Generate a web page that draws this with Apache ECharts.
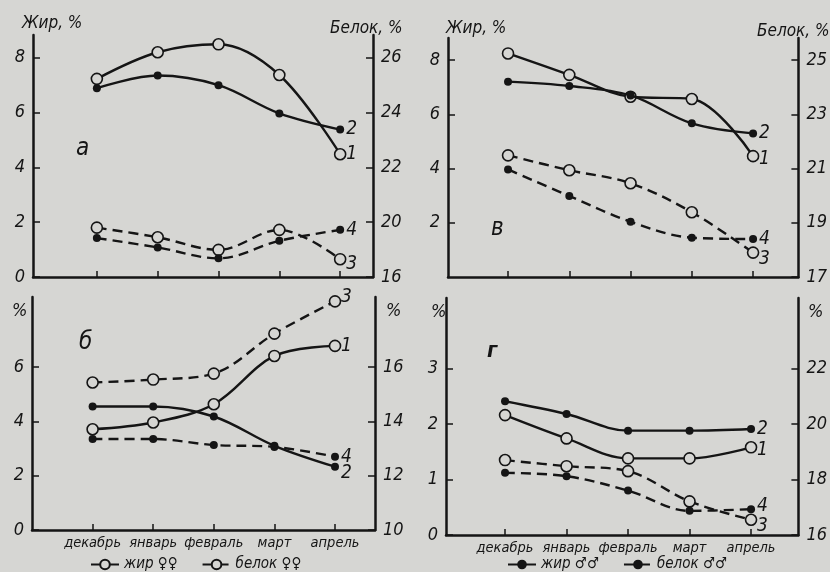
<!DOCTYPE html>
<html>
<head>
<meta charset="utf-8">
<script src="https://cdn.jsdelivr.net/npm/echarts@6/dist/echarts.min.js"></script>
<style>
html,body{margin:0;padding:0;background:#d6d6d3;}
#c{width:830px;height:572px;}
</style>
</head>
<body>
<div id="c"></div>
<script>
// ---- data ----
const months = ['декабрь', 'январь', 'февраль', 'март', 'апрель'];
const monthIdx = [0, 1, 2, 3, 4];

// panel а (♀♀, top-left)
const aFat1 = [7.23, 8.2, 8.49, 7.37, 4.48];
const aFat2 = [6.89, 7.35, 7.0, 5.97, 5.38];
const aProt3 = [19.8, 19.45, 18.99, 19.72, 18.65];
const aProt4 = [19.42, 19.08, 18.68, 19.32, 19.72];
const aFatTicks = [0, 2, 4, 6, 8];
const aProtTicks = [18, 20, 22, 24, 26];
const aProtTickLabels = ['16', '20', '22', '24', '26'];

// panel в (♂♂, top-right)
const vFat1 = [8.25, 7.46, 6.65, 6.57, 4.46];
const vFat2 = [7.21, 7.05, 6.7, 5.67, 5.3];
const vProt3 = [21.49, 20.94, 20.46, 19.39, 17.9];
const vProt4 = [20.97, 19.99, 19.04, 18.45, 18.4];
const vFatTicks = [2, 4, 6, 8];
const vProtTicks = [17, 19, 21, 23, 25];

// panel б (♀♀, bottom-left)
const bFat1 = [3.71, 3.96, 4.63, 6.41, 6.78];
const bFat2 = [4.55, 4.55, 4.18, 3.1, 2.33];
const bProt3 = [15.43, 15.54, 15.76, 17.23, 18.42];
const bProt4 = [13.35, 13.35, 13.13, 13.06, 12.7];
const bFatTicks = [0, 2, 4, 6];
const bProtTicks = [10, 12, 14, 16];

// panel г (♂♂, bottom-right)
const gFat1 = [2.16, 1.74, 1.38, 1.38, 1.58];
const gFat2 = [2.41, 2.18, 1.88, 1.88, 1.91];
const gProt3 = [18.7, 18.48, 18.3, 17.21, 16.55];
const gProt4 = [18.24, 18.12, 17.6, 16.87, 16.93];
const gFatTicks = [0, 1, 2, 3];
const gProtTicks = [16, 18, 20, 22];

// ---- styling ----
const INK = '#151515';
const BG = '#d6d6d3';
const FONT = "'Liberation Sans Narrow', 'DejaVu Sans Condensed', 'DejaVu Sans', sans-serif";
const txt = {color: INK, fontStyle: 'italic', fontFamily: FONT};

function xAxis(grid, min, max, showLabels) {
  return {
    type: 'value', gridIndex: grid, min: min, max: max,
    axisLine: {show: true, onZero: false, lineStyle: {color: INK, width: 2.5}},
    axisTick: {show: true, inside: true, length: 6, customValues: monthIdx, lineStyle: {color: INK, width: 1.5}},
    splitLine: {show: false},
    axisLabel: Object.assign({show: showLabels, customValues: monthIdx, fontSize: 14.5, margin: 6,
      formatter: v => months[Math.round(v)] || ''}, txt)
  };
}
function yAxis(grid, pos, min, max, ticks, labels) {
  return {
    type: 'value', gridIndex: grid, position: pos, min: min, max: max,
    axisLine: {show: true, onZero: false, lineStyle: {color: INK, width: 2.5}},
    axisTick: {show: true, inside: true, length: 7, customValues: ticks, lineStyle: {color: INK, width: 1.5}},
    splitLine: {show: false},
    axisLabel: Object.assign({customValues: ticks, fontSize: 18, margin: 8,
      formatter: v => labels ? labels[ticks.indexOf(v)] : String(v)}, txt)
  };
}
function series(name, vals, grid, yIdx, open, dashed, tag, labelOffset) {
  return {
    name: name, type: 'line', xAxisIndex: grid, yAxisIndex: yIdx,
    data: vals.map((v, i) => [monthIdx[i], v]),
    smooth: 0.35,
    symbol: 'circle',
    symbolSize: open ? 11 : 8,
    showAllSymbol: true,
    itemStyle: open ? {color: BG, borderColor: INK, borderWidth: 1.6} : {color: INK, borderColor: INK, borderWidth: 0},
    lineStyle: {color: INK, width: 2.4, type: dashed ? [10, 6] : 'solid'},
    endLabel: Object.assign({show: true, formatter: tag, fontSize: 19, distance: 6,
      offset: labelOffset || [0, 0]}, txt),
    z: open ? 3 : 4,
    animation: false
  };
}

const option = {
  backgroundColor: BG,
  animation: false,
  grid: [
    {left: 33, right: 457, top: 35, bottom: 295},
    {left: 448, right: 26, top: 38, bottom: 295},
    {left: 32, right: 455, top: 297, bottom: 42},
    {left: 446, right: 27, top: 298, bottom: 37}
  ],
  xAxis: [
    xAxis(0, -1.05, 4.54, false),
    xAxis(1, -0.98, 4.74, false),
    xAxis(2, -1.0, 4.66, true),
    xAxis(3, -0.96, 4.77, true)
  ],
  yAxis: [
    yAxis(0, 'left', 0, 8.83, aFatTicks),
    yAxis(0, 'right', 18, 26.83, aProtTicks, aProtTickLabels),
    yAxis(1, 'left', 0, 8.82, vFatTicks),
    yAxis(1, 'right', 17, 25.82, vProtTicks),
    yAxis(2, 'left', 0, 8.58, bFatTicks),
    yAxis(2, 'right', 10, 18.58, bProtTicks),
    yAxis(3, 'left', 0, 4.27, gFatTicks),
    yAxis(3, 'right', 16, 24.54, gProtTicks)
  ],
  legend: [
    {left: 85, top: 552, itemWidth: 28, itemHeight: 12, itemGap: 24,
      data: ['жир ♀♀', 'белок ♀♀'], textStyle: Object.assign({fontSize: 15}, txt)},
    {left: 502, top: 552, itemWidth: 28, itemHeight: 12, itemGap: 24,
      data: ['жир ♂♂', 'белок ♂♂'], textStyle: Object.assign({fontSize: 15}, txt)}
  ],
  graphic: [
    {type: 'text', left: 22, top: 15, style: {text: 'Жир, %', fontSize: 17, fill: INK, fontStyle: 'italic', fontFamily: FONT}},
    {type: 'text', left: 330, top: 20, style: {text: 'Белок, %', fontSize: 17, fill: INK, fontStyle: 'italic', fontFamily: FONT}},
    {type: 'text', left: 446, top: 20, style: {text: 'Жир, %', fontSize: 17, fill: INK, fontStyle: 'italic', fontFamily: FONT}},
    {type: 'text', left: 757, top: 23, style: {text: 'Белок, %', fontSize: 17, fill: INK, fontStyle: 'italic', fontFamily: FONT}},
    {type: 'text', left: 12, top: 302, style: {text: '%', fontSize: 18, fill: INK, fontStyle: 'italic', fontFamily: FONT}},
    {type: 'text', left: 386, top: 302, style: {text: '%', fontSize: 18, fill: INK, fontStyle: 'italic', fontFamily: FONT}},
    {type: 'text', left: 431, top: 303, style: {text: '%', fontSize: 18, fill: INK, fontStyle: 'italic', fontFamily: FONT}},
    {type: 'text', left: 808, top: 303, style: {text: '%', fontSize: 18, fill: INK, fontStyle: 'italic', fontFamily: FONT}},
    {type: 'text', left: 76, top: 137, style: {text: 'а', fontSize: 24, fill: INK, fontStyle: 'italic', fontFamily: FONT}},
    {type: 'text', left: 491, top: 217, style: {text: 'в', fontSize: 24, fill: INK, fontStyle: 'italic', fontFamily: FONT}},
    {type: 'text', left: 79, top: 331, style: {text: 'б', fontSize: 24, fill: INK, fontStyle: 'italic', fontFamily: FONT}},
    {type: 'text', left: 487, top: 340, style: {text: 'г', fontSize: 22, fill: INK, fontStyle: 'italic', fontWeight: 'bold', fontFamily: FONT}}
  ],
  series: [
    series('а-1', aFat1, 0, 0, true, false, '1'),
    series('а-2', aFat2, 0, 0, false, false, '2'),
    series('а-3', aProt3, 0, 1, true, true, '3', [0, 5]),
    series('а-4', aProt4, 0, 1, false, true, '4'),
    series('в-1', vFat1, 1, 2, true, false, '1', [0, 3]),
    series('в-2', vFat2, 1, 2, false, false, '2'),
    series('в-3', vProt3, 1, 3, true, true, '3', [0, 6]),
    series('в-4', vProt4, 1, 3, false, true, '4'),
    series('жир ♀♀', bFat1, 2, 4, true, false, '1'),
    series('б-2', bFat2, 2, 4, false, false, '2', [0, 6]),
    series('белок ♀♀', bProt3, 2, 5, true, true, '3', [0, -4]),
    series('б-4', bProt4, 2, 5, false, true, '4'),
    series('г-1', gFat1, 3, 6, true, false, '1', [0, 3]),
    series('жир ♂♂', gFat2, 3, 6, false, false, '2'),
    series('г-3', gProt3, 3, 7, true, true, '3', [0, 6]),
    series('белок ♂♂', gProt4, 3, 7, false, true, '4', [0, -3])
  ]
};

const chart = echarts.init(document.getElementById('c'), null, {renderer: 'canvas'});
chart.setOption(option);
</script>
</body>
</html>
